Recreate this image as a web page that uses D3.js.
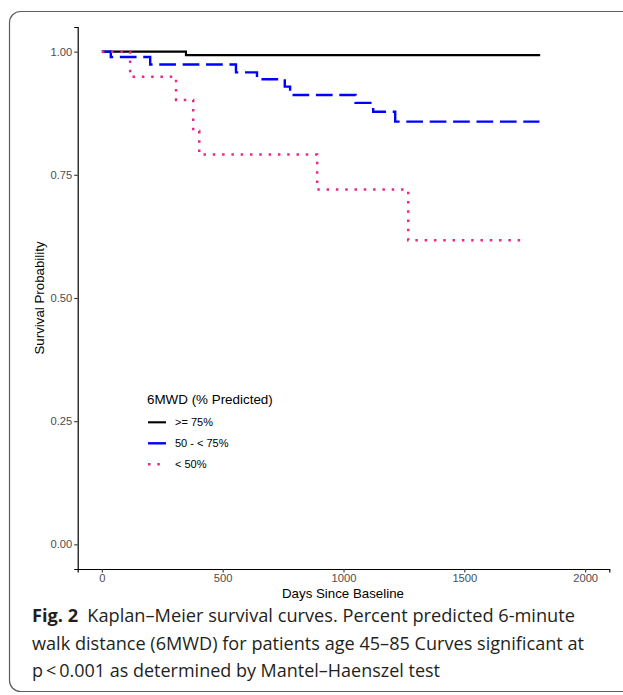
<!DOCTYPE html>
<html>
<head>
<meta charset="utf-8">
<script src="https://cdn.jsdelivr.net/npm/d3@7"></script>
<style>
  body { margin: 0; background: #fff; }
  svg { display: block; }
</style>
</head>
<body>
<script>
// Kaplan-Meier steps (days, survival probability)
const hiTime  = [0, 348, 1814];
const hiSurv  = [1, 0.993, 0.993];
const midTime = [0, 37, 200, 555, 642, 757, 779, 1050, 1123, 1214, 1811];
const midSurv = [1, 0.989, 0.974, 0.958, 0.944, 0.929, 0.912, 0.896, 0.878, 0.858, 0.858];
const lowTime = [0, 117, 307, 378, 403, 891, 1268, 1741];
const lowSurv = [1, 0.949, 0.902, 0.839, 0.791, 0.720, 0.617, 0.617];

const groupNames = [">= 75%", "50 - < 75%", "< 50%"];
const xTicks = [0, 500, 1000, 1500, 2000];
const yTicks = [0, 0.25, 0.5, 0.75, 1];

const captionLines = [
  "Kaplan\u2013Meier survival curves. Percent predicted 6-minute",
  "walk distance (6MWD) for patients age 45\u201385 Curves significant at",
  "p\u2009<\u20090.001 as determined by Mantel\u2013Haenszel test"
];

const W = 623, H = 695;
const svg = d3.select("body").append("svg")
  .attr("width", W).attr("height", H);

svg.append("rect").attr("width", W).attr("height", H).attr("fill", "#fff");

// figure frame (rounded, runs off the right edge)
svg.append("rect")
  .attr("x", 9.5).attr("y", 11.5)
  .attr("width", 700).attr("height", 680)
  .attr("rx", 11)
  .attr("fill", "none")
  .attr("stroke", "#5e5e5e")
  .attr("stroke-width", 1.2);

let panel = {left: 77.7, right: 609.3, top: 27, bottom: 569};

let x = d3.scaleLinear().domain([-100, 2100]).range([panel.left, panel.right]);
let y = d3.scaleLinear().domain([-0.05, 1.05]).range([panel.bottom, panel.top]);

// axes
let xAxis = d3.axisBottom(x).tickValues(xTicks).tickSize(3.5).tickPadding(2).tickFormat(d3.format("d"));
let yAxis = d3.axisLeft(y).tickValues(yTicks).tickSize(3.5).tickPadding(2).tickFormat(d3.format(".2f"));

let gx = svg.append("g")
  .attr("transform", "translate(0," + panel.bottom + ")")
  .call(xAxis);
let gy = svg.append("g")
  .attr("transform", "translate(" + panel.left + ",0)")
  .call(yAxis);

[gx, gy].forEach(function (g) {
  g.select(".domain").attr("stroke", "#000").attr("stroke-width", 1.2);
  g.selectAll(".tick line").attr("stroke", "#333").attr("stroke-width", 1.1);
  g.selectAll(".tick text")
    .attr("fill", "#4d4d4d")
    .style("font-family", "'Liberation Sans', Arial, sans-serif")
    .style("font-size", "11.2px");
});

svg.append("text")
  .attr("x", 343).attr("y", 598)
  .attr("text-anchor", "middle")
  .style("font-family", "'Liberation Sans', Arial, sans-serif")
  .style("font-size", "13.3px")
  .text("Days Since Baseline");

svg.append("text")
  .attr("transform", "translate(44," + 298 + ") rotate(-90)")
  .attr("text-anchor", "middle")
  .style("font-family", "'Liberation Sans', Arial, sans-serif")
  .style("font-size", "13.3px")
  .text("Survival Probability");

// curves
const series = [
  {name: groupNames[0], t: hiTime,  s: hiSurv,  color: "#000000", width: 2.1, dash: null},
  {name: groupNames[1], t: midTime, s: midSurv, color: "#0000FF", width: 2.4, dash: "16.7,6.7"},
  {name: groupNames[2], t: lowTime, s: lowSurv, color: "#E7298A", width: 2.5, dash: "2.5,6.8"}
];

let line = d3.line()
  .x(function (d) { return x(d[0]); })
  .y(function (d) { return y(d[1]); })
  .curve(d3.curveStepAfter);

series.forEach(function (sr) {
  let pts = sr.t.map(function (t, i) { return [t, sr.s[i]]; });
  svg.append("path")
    .datum(pts)
    .attr("d", line)
    .attr("fill", "none")
    .attr("stroke", sr.color)
    .attr("stroke-width", sr.width)
    .attr("stroke-dasharray", sr.dash)
    .attr("stroke-linecap", "butt");
});

// legend
let legend = svg.append("g");
legend.append("text")
  .attr("x", 147).attr("y", 404)
  .style("font-family", "'Liberation Sans', Arial, sans-serif")
  .style("font-size", "13.4px")
  .text("6MWD (% Predicted)");

series.forEach(function (sr, i) {
  let cy = 422.3 + i * 21;
  legend.append("line")
    .attr("x1", 148).attr("x2", 166)
    .attr("y1", cy).attr("y2", cy)
    .attr("stroke", sr.color)
    .attr("stroke-width", sr.width)
    .attr("stroke-dasharray", i === 2 ? sr.dash : null);
  legend.append("text")
    .attr("x", 175).attr("y", cy)
    .attr("dy", "0.36em")
    .style("font-family", "'Liberation Sans', Arial, sans-serif")
    .style("font-size", "11px")
    .text(sr.name);
});

// caption
const capEnds = [575, 584, 440];
let cap = svg.append("g")
  .style("font-family", "'Open Sans', 'Noto Sans', sans-serif")
  .style("font-size", "17.8px")
  .attr("fill", "#231f20");

captionLines.forEach(function (txt, i) {
  let t = cap.append("text")
    .attr("x", 32).attr("y", 622.3 + i * 27.2)
    .attr("textLength", capEnds[i] - 32)
    .attr("lengthAdjust", "spacingAndGlyphs");
  if (i === 0) {
    t.append("tspan").style("font-weight", "bold").text("Fig. 2");
    t.append("tspan").text("\u2002" + txt);
  } else {
    t.text(txt);
  }
});
</script>
</body>
</html>
